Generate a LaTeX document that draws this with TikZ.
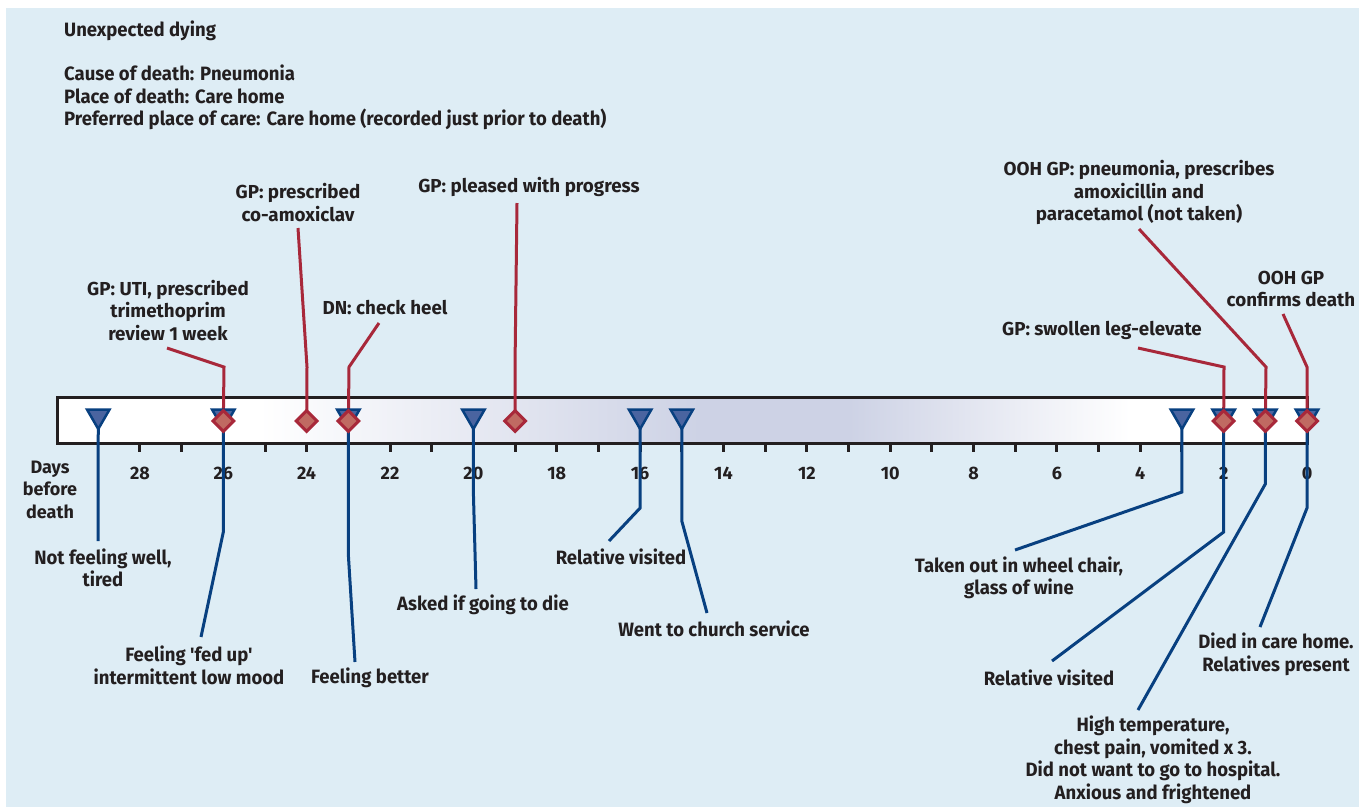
\documentclass[tikz,border=0pt]{standalone}
\usepackage{fontspec}
\setmainfont{Fira Sans}
\newfontfamily\condfont{Fira Sans}[FakeStretch=0.96]
\usepackage{tikz}
\usetikzlibrary{shapes, positioning}
\definecolor{bgblue}{RGB}{222,237,245}
\definecolor{lav}{RGB}{205,210,229}
\definecolor{ink}{RGB}{35,31,32}
\definecolor{linered}{RGB}{168,40,58}
\definecolor{diared}{RGB}{192,106,98}
\definecolor{lineblue}{RGB}{8,64,128}
\definecolor{triblue}{RGB}{74,100,160}
\tikzstyle{tnode} = [regular polygon, regular polygon sides=3, shape border rotate=180, draw=lineblue, fill=triblue, line width=2.5pt, inner sep=0pt, minimum size=26pt, yshift=5pt]
\tikzstyle{dnode} = [diamond, draw=linered, fill=diared, line width=3pt, inner sep=0pt, minimum width=22pt, minimum height=22pt]
\tikzstyle{rline} = [draw=linered, line width=3pt]
\tikzstyle{bline} = [draw=lineblue, line width=3pt]
\tikzstyle{ulabel} = [align=center, text=ink, inner sep=0pt, font=\fontsize{18.8}{22.5}\selectfont\bfseries]
\tikzstyle{llabel} = [align=center, text=ink, inner sep=0pt, font=\fontsize{19.3}{22.5}\selectfont\condfont\bfseries]
\tikzstyle{num} = [text=ink, inner sep=0pt, font=\fontsize{18}{22.5}\selectfont\bfseries]

\begin{document}
\begin{tikzpicture}[x=1pt, y=-1pt]
	\useasboundingbox (0,0) rectangle (1359,807);
	\fill [bgblue] (6,8) rectangle (1359,807);

	% header
	\node [llabel, anchor=west] (title) at (64,31) {Unexpected dying};
	\node [llabel, anchor=west, align=left] (facts) at (64,97.5) {Cause of death: Pneumonia\\Place of death: Care home\\Preferred place of care: Care home (recorded just prior to death)};

	% time bar
	\fill [white] (57,397) rectangle (260,443);
	\fill [left color=white, right color=lav] (259,397) rectangle (700,443);
	\fill [lav] (699,397) rectangle (850,443);
	\fill [left color=lav, right color=white] (849,397) rectangle (1130,443);
	\fill [white] (1129,397) rectangle (1307,443);
	\draw [ink, line width=3pt] (57,397) rectangle (1307,443);
	\foreach \d in {1,...,28}
		\draw [ink, line width=3pt] ({1307-41.68*\d},443) -- ({1307-41.68*\d},452);
	\foreach \d in {0,2,...,28}
		\node [num] (n\d) at ({1307-41.68*\d},473) {\d};
	\node [num, align=center] (days) at (50,489.5) {Days\\before\\death};

	% day positions
	\foreach \d in {29,26,24,23,20,19,16,15,3,2,1,0}
		\coordinate (p\d) at ({1307-41.68*\d},421);

	% upper labels
	\node [ulabel] (uti) at (168,310.5) {GP: UTI, prescribed\\trimethoprim\\review 1 week};
	\node [ulabel] (coamox) at (298,202.5) {GP: prescribed\\co-amoxiclav};
	\node [ulabel] (heel) at (385,308) {DN: check heel};
	\node [ulabel] (pleased) at (529,187) {GP: pleased with progress};
	\node [ulabel] (swollen) at (1102,330) {GP: swollen leg-elevate};
	\node [ulabel] (pneu) at (1139,192.5) {OOH GP: pneumonia, prescribes\\amoxicillin and\\paracetamol (not taken)};
	\node [ulabel] (confirm) at (1291,289) {OOH GP\\confirms death};

	% lower labels
	\node [llabel] (unwell) at (103,568) {Not feeling well,\\tired};
	\node [llabel] (fedup) at (189,665.5) {Feeling 'fed up'\\intermittent low mood};
	\node [llabel] (better) at (370,678) {Feeling better};
	\node [llabel] (die) at (483,605) {Asked if going to die};
	\node [llabel] (rel16) at (621,557) {Relative visited};
	\node [llabel] (church) at (714,629) {Went to church service};
	\node [llabel] (wheel) at (1019,578) {Taken out in wheel chair,\\glass of wine};
	\node [llabel] (rel2) at (1049,678) {Relative visited};
	\node [llabel] (fever) at (1153,760) {High temperature,\\chest pain, vomited x 3.\\Did not want to go to hospital.\\Anxious and frightened};
	\node [llabel] (died) at (1276,654.5) {Died in care home.\\Relatives present};

	% leader ends
	\coordinate (uti-e) at (167,348);
	\coordinate (coamox-e) at (298,228);
	\coordinate (heel-e) at (379,323);
	\coordinate (pleased-e) at (517,203);
	\coordinate (swollen-e) at (1138,348);
	\coordinate (pneu-e) at (1139,229);
	\coordinate (confirm-e) at (1283,314);
	\coordinate (unwell-e) at (98,541);
	\coordinate (fedup-e) at (201,637);
	\coordinate (better-e) at (355,662);
	\coordinate (die-e) at (476,589);
	\coordinate (rel16-e) at (609,541);
	\coordinate (church-e) at (707,613);
	\coordinate (wheel-e) at (1015,550);
	\coordinate (rel2-e) at (1052,661);
	\coordinate (fever-e) at (1138,710);
	\coordinate (died-e) at (1260,627);

	% blue connectors
	\path [bline] (p29) -- (unwell-e);
	\path [bline] (p26) -- ++(0,111) -- (fedup-e);
	\path [bline] (p23) -- ++(0,134) -- (better-e);
	\path [bline] (p20) -- ++(0,72) -- (die-e);
	\path [bline] (p16) -- ++(0,87) -- (rel16-e);
	\path [bline] (p15) -- ++(0,100) -- (church-e);
	\path [bline] (p3) -- ++(0,71) -- (wheel-e);
	\path [bline] (p2) -- ++(0,111) -- (rel2-e);
	\path [bline] (p1) -- ++(0,63) -- (fever-e);
	\path [bline] (p0) -- ++(0,87) -- (died-e);

	% red connectors
	\path [rline] (uti-e) -- (224,367) -- (p26);
	\path [rline] (coamox-e) -- (307,367) -- (p24);
	\path [rline] (heel-e) -- (349,367) -- (p23);
	\path [rline] (pleased-e) -- (515,367) -- (p19);
	\path [rline] (swollen-e) -- (1224,367) -- (p2);
	\path [rline] (pneu-e) -- (1266,367) -- (p1);
	\path [rline] (confirm-e) -- (1307,367) -- (p0);

	% markers
	\foreach \d in {29,26,23,20,16,15,3,2,1,0}
		\node [tnode] (t\d) at (p\d) {};
	\foreach \d in {26,24,23,19,2,1,0}
		\node [dnode] (m\d) at (p\d) {};
\end{tikzpicture}
\end{document}
